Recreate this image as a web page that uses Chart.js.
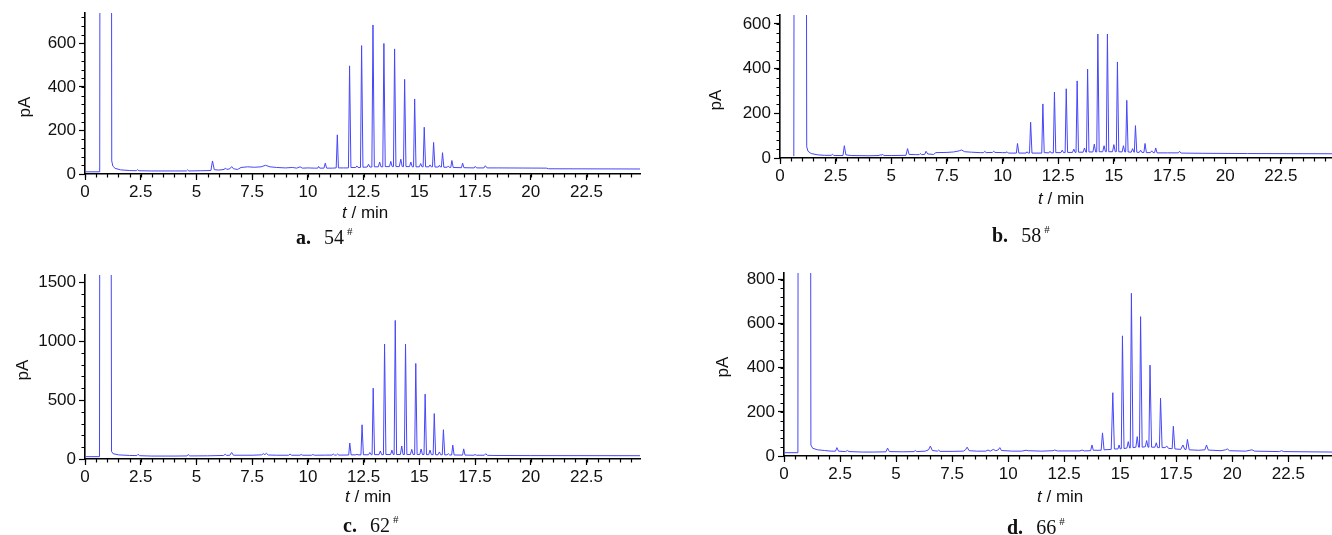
<!DOCTYPE html>
<html>
<head>
<meta charset="utf-8">
<script src="https://cdn.jsdelivr.net/npm/chart.js@4.4.1/dist/chart.umd.min.js"></script>
<style>
  html, body { margin: 0; padding: 0; background: #fff; }
  #page { position: relative; width: 1332px; height: 535px; overflow: hidden; font-family: "Liberation Sans", Arial, sans-serif; }
  canvas { position: absolute; }
  .ylab { position: absolute; font-size: 17px; line-height: 1; white-space: nowrap; color: #111; transform: translate(-50%, -50%) rotate(-90deg); }
  .xlab { position: absolute; font-size: 17px; line-height: 1; white-space: nowrap; color: #111; }
  .cap { position: absolute; font-family: "Liberation Serif", "Times New Roman", serif; font-size: 20px; line-height: 1; white-space: nowrap; color: #111; }
  .cap .n { margin-left: 13px; }
  .cap sup { font-size: 11px; vertical-align: 9px; margin-left: 3px; }
</style>
</head>
<body>
<div id="page">
  <canvas id="ca" width="666" height="230" style="left:0;top:0"></canvas>
  <canvas id="cb" width="666" height="230" style="left:666px;top:0"></canvas>
  <canvas id="cc" width="666" height="305" style="left:0;top:230px"></canvas>
  <canvas id="cd" width="666" height="305" style="left:666px;top:230px"></canvas>

  <div class="ylab" style="left:24px;top:107px">pA</div>
  <div class="ylab" style="left:715px;top:100px">pA</div>
  <div class="ylab" style="left:22px;top:370px">pA</div>
  <div class="ylab" style="left:722px;top:367px">pA</div>

  <div class="xlab" style="left:342px;top:204px"><i>t</i> / min</div>
  <div class="xlab" style="left:1038px;top:190px"><i>t</i> / min</div>
  <div class="xlab" style="left:345px;top:488px"><i>t</i> / min</div>
  <div class="xlab" style="left:1037px;top:488px"><i>t</i> / min</div>

  <div class="cap" style="left:296px;top:226px"><b>a.</b><span class="n">54</span><sup>#</sup></div>
  <div class="cap" style="left:992px;top:224px"><b>b.</b><span class="n">58</span><sup>#</sup></div>
  <div class="cap" style="left:343px;top:514px"><b>c.</b><span class="n">62</span><sup>#</sup></div>
  <div class="cap" style="left:1007px;top:516px"><b>d.</b><span class="n">66</span><sup>#</sup></div>
</div>
<script>
// tick values
const xTicks = [0, 2.5, 5, 7.5, 10, 12.5, 15, 17.5, 20, 22.5];
const yTicksA = [0, 200, 400, 600];
const yTicksB = [0, 200, 400, 600];
const yTicksC = [0, 500, 1000, 1500];
const yTicksD = [0, 200, 400, 600, 800];

// chromatograms, [t (min), signal (pA)]
const traceA = [
  [0, 10], [0.66, 10], [0.70, 4000], [1.16, 4000], [1.20, 60], [1.25, 36], [1.35, 26], [1.6, 19], [2.0, 16],
  [2.3, 15], [2.35, 20], [2.42, 15], [3.0, 14], [4.0, 14], [4.55, 14], [4.6, 19], [4.66, 14], [5.2, 15],
  [5.65, 16], [5.72, 60], [5.8, 20], [6.0, 18], [6.25, 21], [6.3, 28], [6.36, 21], [6.5, 24], [6.58, 34],
  [6.66, 24], [6.85, 21], [7.0, 30], [7.3, 33], [7.6, 31], [7.9, 33], [8.1, 40], [8.3, 33], [8.6, 30],
  [9.0, 28], [9.3, 30], [9.5, 27], [9.65, 33], [9.75, 27], [10.0, 28], [10.3, 27], [10.44, 27], [10.48, 35],
  [10.53, 27], [10.72, 27], [10.78, 50], [10.84, 27], [11.1, 27], [11.27, 28], [11.32, 180], [11.37, 28],
  [11.6, 28], [11.82, 28], [11.87, 497], [11.93, 30], [12.15, 30], [12.2, 37], [12.25, 30], [12.36, 30],
  [12.41, 590], [12.47, 31], [12.66, 32], [12.72, 45], [12.78, 32], [12.87, 32], [12.92, 685], [12.98, 33],
  [13.16, 33], [13.22, 55], [13.28, 33], [13.36, 33], [13.41, 600], [13.47, 34], [13.66, 34], [13.72, 58],
  [13.78, 34], [13.84, 34], [13.89, 575], [13.95, 34], [14.1, 34], [14.17, 68], [14.23, 34], [14.29, 34],
  [14.34, 435], [14.4, 34], [14.56, 34], [14.62, 55], [14.68, 33], [14.74, 33], [14.79, 345], [14.85, 33],
  [15.0, 33], [15.06, 48], [15.12, 33], [15.17, 33], [15.22, 215], [15.28, 33], [15.43, 33], [15.48, 42],
  [15.53, 33], [15.59, 33], [15.64, 145], [15.7, 32], [15.85, 32], [15.9, 40], [15.95, 32], [15.99, 32],
  [16.04, 98], [16.1, 31], [16.25, 31], [16.3, 37], [16.35, 30], [16.41, 30], [16.46, 62], [16.52, 30],
  [16.89, 29], [16.94, 50], [17.0, 29], [17.46, 28], [17.51, 35], [17.57, 28], [17.9, 28], [17.96, 38],
  [18.04, 28], [18.5, 28], [20.7, 27], [20.8, 24], [24.9, 23]
];

const traceB = [
  [0.62, 8], [0.66, 3000], [1.16, 3000], [1.2, 50], [1.26, 30], [1.4, 20], [1.7, 14], [2.0, 12], [2.3, 12],
  [2.36, 17], [2.42, 11], [2.83, 11], [2.89, 55], [2.96, 14], [3.2, 11], [4.0, 10], [4.45, 11], [4.5, 15],
  [4.55, 11], [4.6, 18], [4.66, 11], [5.0, 11], [5.66, 12], [5.73, 42], [5.8, 16], [6.1, 15], [6.25, 15],
  [6.3, 20], [6.36, 15], [6.5, 16], [6.56, 30], [6.64, 18], [6.9, 16], [7.0, 24], [7.5, 25], [7.8, 27],
  [8.05, 32], [8.15, 36], [8.3, 28], [8.6, 26], [9.0, 24], [9.15, 24], [9.2, 30], [9.26, 24], [9.55, 25],
  [9.6, 30], [9.66, 25], [10.0, 24], [10.15, 24], [10.2, 28], [10.26, 22], [10.62, 22], [10.67, 65],
  [10.73, 22], [11.05, 22], [11.1, 28], [11.15, 22], [11.21, 22], [11.26, 160], [11.32, 22], [11.76, 22],
  [11.81, 242], [11.87, 24], [12.08, 23], [12.13, 30], [12.18, 23], [12.28, 23], [12.33, 295], [12.39, 24],
  [12.62, 24], [12.68, 35], [12.74, 24], [12.81, 24], [12.86, 310], [12.92, 25], [13.14, 25], [13.2, 40],
  [13.26, 25], [13.3, 25], [13.35, 345], [13.41, 26], [13.62, 26], [13.68, 45], [13.74, 26], [13.77, 26],
  [13.82, 398], [13.88, 27], [14.06, 27], [14.12, 62], [14.18, 27], [14.23, 27], [14.28, 555], [14.34, 28],
  [14.5, 28], [14.56, 55], [14.62, 28], [14.66, 28], [14.71, 555], [14.77, 28], [14.94, 28], [15.0, 60],
  [15.06, 28], [15.11, 28], [15.16, 430], [15.22, 28], [15.37, 27], [15.43, 55], [15.49, 27], [15.53, 27],
  [15.58, 258], [15.64, 27], [15.78, 26], [15.84, 42], [15.9, 26], [15.92, 26], [15.97, 145], [16.03, 26],
  [16.14, 25], [16.2, 35], [16.26, 25], [16.35, 25], [16.4, 65], [16.46, 24], [16.64, 24], [16.7, 32],
  [16.76, 24], [16.83, 24], [16.88, 45], [16.94, 23], [17.4, 23], [17.9, 23], [17.95, 30], [18.02, 22],
  [19.0, 21], [21.0, 20], [24.8, 19]
];

const traceC = [
  [0, 20], [0.65, 20], [0.68, 5000], [1.15, 5000], [1.19, 65], [1.26, 45], [1.5, 35], [2.0, 30], [2.33, 29],
  [2.38, 40], [2.45, 28], [3.0, 25], [4.0, 25], [4.58, 26], [4.63, 38], [4.7, 26], [5.5, 27], [6.22, 30],
  [6.29, 40], [6.36, 30], [6.5, 32], [6.58, 55], [6.66, 32], [7.0, 32], [7.5, 32], [7.92, 35], [8.0, 45],
  [8.07, 37], [8.14, 48], [8.22, 34], [8.6, 32], [9.14, 32], [9.2, 42], [9.27, 32], [9.64, 32], [9.7, 38],
  [9.77, 32], [10.16, 32], [10.22, 38], [10.29, 32], [10.8, 33], [11.08, 33], [11.14, 42], [11.2, 33],
  [11.28, 33], [11.33, 42], [11.39, 33], [11.83, 34], [11.88, 135], [11.94, 35], [12.15, 35], [12.2, 40],
  [12.25, 35], [12.38, 35], [12.43, 290], [12.49, 36], [12.72, 36], [12.78, 55], [12.84, 36], [12.88, 36],
  [12.93, 600], [12.99, 37], [13.19, 37], [13.25, 68], [13.31, 37], [13.39, 37], [13.44, 975], [13.5, 38],
  [13.71, 38], [13.77, 75], [13.83, 38], [13.87, 38], [13.92, 1175], [13.98, 38], [14.15, 38], [14.21, 110],
  [14.27, 38], [14.33, 38], [14.38, 975], [14.44, 38], [14.6, 38], [14.66, 82], [14.72, 38], [14.79, 38],
  [14.84, 810], [14.9, 38], [15.02, 38], [15.08, 85], [15.14, 38], [15.21, 38], [15.26, 550], [15.32, 37],
  [15.42, 37], [15.48, 75], [15.54, 37], [15.62, 37], [15.67, 385], [15.73, 36], [15.84, 36], [15.9, 60],
  [15.96, 36], [16.03, 36], [16.08, 248], [16.14, 35], [16.24, 35], [16.3, 45], [16.36, 34], [16.45, 34],
  [16.5, 118], [16.56, 34], [16.94, 33], [16.99, 86], [17.05, 33], [17.45, 32], [17.5, 38], [17.56, 32],
  [17.92, 32], [17.98, 45], [18.05, 31], [18.3, 30], [20.0, 29], [24.9, 28]
];

const traceD = [
  [0, 15], [0.62, 15], [0.65, 4000], [1.16, 4000], [1.2, 50], [1.28, 35], [1.5, 28], [1.8, 25], [2.1, 22],
  [2.3, 22], [2.36, 38], [2.43, 22], [2.75, 20], [2.83, 25], [2.9, 20], [3.5, 18], [4.0, 18], [4.55, 19],
  [4.62, 36], [4.7, 20], [5.3, 19], [5.8, 20], [5.86, 25], [5.92, 20], [6.3, 22], [6.45, 28], [6.53, 45],
  [6.62, 25], [6.85, 22], [6.9, 27], [6.96, 21], [7.5, 21], [8.0, 22], [8.1, 28], [8.17, 40], [8.26, 24],
  [8.6, 22], [9.0, 22], [9.1, 27], [9.2, 22], [9.34, 30], [9.45, 24], [9.56, 28], [9.63, 38], [9.7, 25],
  [10.2, 22], [10.6, 22], [10.8, 26], [10.9, 24], [11.5, 22], [12.0, 24], [12.08, 27], [12.2, 23], [12.8, 23],
  [13.2, 23], [13.3, 27], [13.4, 23], [13.68, 24], [13.74, 50], [13.8, 26], [14.15, 26], [14.21, 105],
  [14.28, 28], [14.6, 30], [14.67, 287], [14.74, 32], [14.9, 32], [14.95, 50], [15.0, 32], [15.05, 33],
  [15.1, 545], [15.17, 34], [15.3, 36], [15.36, 65], [15.42, 36], [15.45, 37], [15.5, 738], [15.57, 38],
  [15.7, 40], [15.76, 88], [15.82, 40], [15.86, 40], [15.91, 632], [15.98, 40], [16.12, 42], [16.18, 70],
  [16.24, 40], [16.28, 40], [16.33, 412], [16.4, 40], [16.55, 40], [16.61, 60], [16.67, 38], [16.75, 38],
  [16.8, 262], [16.87, 38], [17.0, 38], [17.08, 45], [17.15, 35], [17.32, 33], [17.37, 135], [17.44, 32],
  [17.7, 30], [17.8, 50], [17.88, 30], [17.94, 30], [18.0, 75], [18.08, 28], [18.5, 26], [18.78, 28],
  [18.85, 50], [18.93, 27], [19.5, 24], [19.7, 28], [19.78, 32], [19.88, 24], [20.6, 22], [20.88, 28],
  [21.0, 22], [22.1, 20], [22.2, 24], [22.3, 20], [24.45, 18]
];

Chart.defaults.font.family = '"Liberation Sans", Arial, sans-serif';
Chart.defaults.font.size = 17;
Chart.defaults.color = '#111';

// short unlabeled ticks between the labelled ones
const minorTicks = {
  id: 'minorTicks',
  afterDraw(chart, args, opts) {
    const ctx = chart.ctx;
    const area = chart.chartArea;
    const xs = chart.scales.x, ys = chart.scales.y;
    ctx.save();
    ctx.strokeStyle = '#000';
    ctx.lineWidth = 1.2;
    ctx.beginPath();
    for (let v = xs.min; v <= xs.max + 1e-9; v += opts.x) {
      const px = Math.round(xs.getPixelForValue(v)) + 0.5;
      ctx.moveTo(px, area.bottom);
      ctx.lineTo(px, area.bottom + 3.5);
    }
    for (let v = ys.min; v <= ys.max + 1e-9; v += opts.y) {
      const py = Math.round(ys.getPixelForValue(v)) + 0.5;
      ctx.moveTo(area.left - 3.5, py);
      ctx.lineTo(area.left, py);
    }
    ctx.stroke();
    ctx.restore();
  }
};

function makeChart(id, trace, yTicks, p) {
  return new Chart(document.getElementById(id), {
    type: 'line',
    data: {
      datasets: [{
        data: trace.map(([x, y]) => ({ x, y })),
        borderColor: 'rgb(70,70,250)',
        borderWidth: 1,
        pointRadius: 0,
        tension: 0
      }]
    },
    options: {
      responsive: false,
      animation: false,
      devicePixelRatio: 1,
      layout: { padding: { top: p.top, right: p.right, left: 0, bottom: 0 } },
      plugins: {
        legend: { display: false },
        tooltip: { enabled: false },
        minorTicks: { x: 0.5, y: p.minorY }
      },
      scales: {
        x: {
          type: 'linear', min: 0, max: p.xMax,
          afterBuildTicks: s => { s.ticks = xTicks.map(v => ({ value: v })); },
          afterFit: s => { s.height = p.xHeight; s.paddingLeft = 0; s.paddingRight = 0; },
          ticks: { padding: 2, maxRotation: 0, autoSkip: false, callback: v => String(v) },
          grid: { drawOnChartArea: false, tickLength: 6, tickColor: '#000', tickWidth: 1.2 },
          border: { color: '#000', width: 1.6 }
        },
        y: {
          type: 'linear', min: 0, max: p.yMax,
          afterBuildTicks: s => { s.ticks = yTicks.map(v => ({ value: v })); },
          afterFit: s => { s.width = p.yWidth; s.paddingTop = 0; s.paddingBottom = 0; },
          ticks: { padding: 3, autoSkip: false, callback: v => String(v) },
          grid: { drawOnChartArea: false, tickLength: 6, tickColor: '#000', tickWidth: 1.2 },
          border: { color: '#000', width: 1.6 }
        }
      }
    },
    plugins: [minorTicks]
  });
}

makeChart('ca', traceA, yTicksA, { top: 13, right: 26, yWidth: 85, xHeight: 56, xMax: 24.9, yMax: 740, minorY: 40 });
makeChart('cb', traceB, yTicksB, { top: 15, right: 0, yWidth: 114, xHeight: 72, xMax: 24.8, yMax: 640, minorY: 40 });
makeChart('cc', traceC, yTicksC, { top: 45, right: 26, yWidth: 85, xHeight: 76, xMax: 24.9, yMax: 1560, minorY: 100 });
makeChart('cd', traceD, yTicksD, { top: 43, right: 0, yWidth: 118, xHeight: 79, xMax: 24.45, yMax: 830, minorY: 40 });
</script>
</body>
</html>
